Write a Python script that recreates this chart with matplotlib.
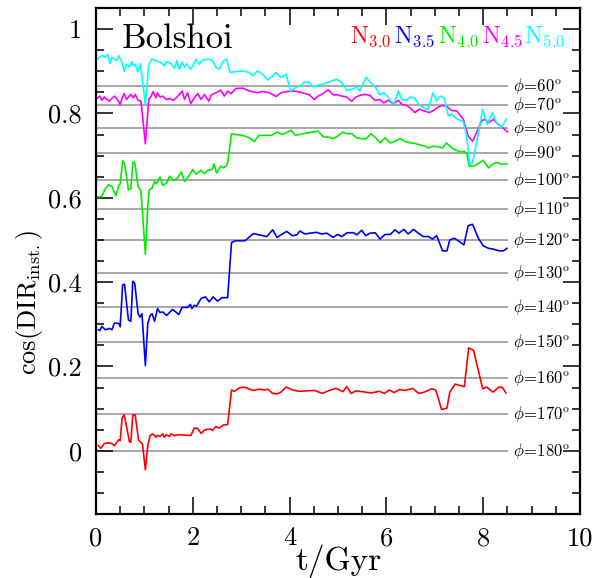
import numpy as np
import matplotlib
matplotlib.use("Agg")
import matplotlib.pyplot as plt
from matplotlib.ticker import MultipleLocator, FuncFormatter

# N_3.0 (red)
t_n30 = [0.05, 0.10, 0.17, 0.28, 0.34, 0.38, 0.47, 0.50, 0.54, 0.585, 0.69, 0.72, 0.76, 0.81, 0.88,
         0.96, 1.02, 1.07, 1.12, 1.17, 1.24, 1.27, 1.32, 1.38, 1.41, 1.45, 1.52, 1.55, 1.62, 1.72,
         1.83, 1.96, 2.03, 2.10, 2.17, 2.24, 2.31, 2.38, 2.41, 2.47, 2.55, 2.63, 2.72, 2.80, 2.86,
         2.96, 3.06, 3.24, 3.37, 3.48, 3.55, 3.65, 3.75, 3.82, 3.93, 4.06, 4.20, 4.34, 4.51, 4.68,
         4.82, 4.96, 5.10, 5.18, 5.27, 5.37, 5.51, 5.68, 5.85, 5.96, 6.06, 6.16, 6.27, 6.40, 6.54,
         6.67, 6.78, 6.94, 7.02, 7.14, 7.25, 7.31, 7.42, 7.61, 7.70, 7.80, 7.99, 8.07, 8.20, 8.33,
         8.40, 8.47]
cos_n30 = [0.012, 0.006, 0.017, 0.019, 0.016, 0.012, 0.026, 0.024, 0.079, 0.085, 0.022, 0.020, 0.085, 0.085, 0.025,
           0.016, -0.045, 0.012, 0.036, 0.040, 0.032, 0.037, 0.034, 0.040, 0.032, 0.038, 0.034, 0.040, 0.036, 0.038,
           0.037, 0.036, 0.054, 0.053, 0.041, 0.049, 0.051, 0.051, 0.048, 0.057, 0.054, 0.061, 0.062, 0.144, 0.141,
           0.149, 0.151, 0.143, 0.146, 0.144, 0.146, 0.136, 0.135, 0.139, 0.151, 0.144, 0.141, 0.142, 0.143, 0.136,
           0.143, 0.148, 0.140, 0.152, 0.136, 0.142, 0.140, 0.137, 0.141, 0.136, 0.144, 0.138, 0.145, 0.143, 0.148,
           0.136, 0.139, 0.147, 0.144, 0.098, 0.101, 0.139, 0.158, 0.152, 0.244, 0.238, 0.147, 0.151, 0.139, 0.151,
           0.150, 0.137]

# N_3.5 (blue)
t_n35 = [0.05, 0.08, 0.12, 0.19, 0.28, 0.33, 0.38, 0.47, 0.50, 0.55, 0.59, 0.67, 0.72, 0.76, 0.80,
         0.87, 0.91, 0.95, 1.02, 1.07, 1.12, 1.16, 1.21, 1.27, 1.32, 1.38, 1.46, 1.58, 1.65, 1.71,
         1.78, 1.89, 1.95, 1.98, 2.03, 2.08, 2.17, 2.26, 2.34, 2.42, 2.51, 2.60, 2.72, 2.80, 2.89,
         3.08, 3.25, 3.37, 3.53, 3.65, 3.74, 3.82, 3.94, 4.06, 4.15, 4.21, 4.32, 4.42, 4.56, 4.66,
         4.77, 4.90, 4.99, 5.08, 5.19, 5.32, 5.39, 5.49, 5.57, 5.66, 5.77, 5.87, 5.97, 6.08, 6.18,
         6.26, 6.36, 6.45, 6.56, 6.66, 6.76, 6.87, 6.95, 7.04, 7.16, 7.25, 7.31, 7.40, 7.51, 7.60,
         7.69, 7.78, 7.90, 8.00, 8.11, 8.21, 8.33, 8.42, 8.49]
cos_n35 = [0.287, 0.285, 0.295, 0.287, 0.290, 0.287, 0.303, 0.302, 0.294, 0.393, 0.395, 0.310, 0.307, 0.402, 0.397,
           0.325, 0.317, 0.325, 0.202, 0.302, 0.321, 0.325, 0.307, 0.337, 0.328, 0.329, 0.321, 0.335, 0.329, 0.323,
           0.340, 0.340, 0.347, 0.337, 0.345, 0.343, 0.361, 0.365, 0.353, 0.365, 0.355, 0.363, 0.363, 0.494, 0.498,
           0.498, 0.515, 0.512, 0.508, 0.524, 0.506, 0.512, 0.520, 0.510, 0.512, 0.521, 0.514, 0.516, 0.518, 0.514,
           0.516, 0.506, 0.513, 0.508, 0.517, 0.517, 0.512, 0.523, 0.510, 0.516, 0.517, 0.502, 0.513, 0.513, 0.524,
           0.516, 0.525, 0.514, 0.525, 0.516, 0.508, 0.508, 0.502, 0.510, 0.474, 0.474, 0.500, 0.504, 0.496, 0.488,
           0.534, 0.537, 0.504, 0.486, 0.480, 0.478, 0.474, 0.474, 0.480]

# N_4.0 (green)
t_n40 = [0.03, 0.12, 0.19, 0.26, 0.33, 0.41, 0.47, 0.50, 0.55, 0.59, 0.67, 0.72, 0.76, 0.80, 0.87,
         0.93, 1.02, 1.07, 1.10, 1.16, 1.21, 1.25, 1.32, 1.38, 1.46, 1.52, 1.60, 1.69, 1.76, 1.83,
         1.89, 2.00, 2.07, 2.17, 2.24, 2.31, 2.40, 2.44, 2.49, 2.58, 2.63, 2.69, 2.72, 2.80, 2.89,
         3.03, 3.17, 3.27, 3.37, 3.48, 3.62, 3.75, 3.84, 3.93, 4.03, 4.12, 4.21, 4.42, 4.59, 4.70,
         4.80, 4.90, 4.99, 5.10, 5.18, 5.28, 5.39, 5.49, 5.58, 5.68, 5.78, 5.87, 5.97, 6.08, 6.18,
         6.28, 6.38, 6.49, 6.59, 6.70, 6.78, 6.87, 6.95, 7.07, 7.16, 7.24, 7.35, 7.45, 7.53, 7.60,
         7.66, 7.71, 7.80, 7.90, 8.00, 8.11, 8.20, 8.29, 8.38, 8.49]
cos_n40 = [0.602, 0.603, 0.621, 0.631, 0.627, 0.605, 0.629, 0.633, 0.688, 0.681, 0.619, 0.621, 0.684, 0.684, 0.627,
           0.615, 0.466, 0.579, 0.619, 0.623, 0.639, 0.633, 0.649, 0.629, 0.635, 0.651, 0.641, 0.647, 0.661, 0.639,
           0.647, 0.667, 0.656, 0.665, 0.657, 0.665, 0.667, 0.680, 0.659, 0.675, 0.671, 0.675, 0.683, 0.752, 0.750,
           0.748, 0.742, 0.733, 0.748, 0.748, 0.748, 0.756, 0.750, 0.754, 0.760, 0.748, 0.750, 0.755, 0.758, 0.744,
           0.744, 0.740, 0.746, 0.756, 0.752, 0.752, 0.742, 0.740, 0.740, 0.752, 0.742, 0.730, 0.742, 0.730, 0.734,
           0.740, 0.734, 0.730, 0.729, 0.725, 0.723, 0.718, 0.722, 0.721, 0.718, 0.730, 0.718, 0.712, 0.709, 0.710,
           0.706, 0.675, 0.675, 0.681, 0.689, 0.671, 0.680, 0.684, 0.679, 0.681]

# N_4.5 (magenta)
t_n45 = [0.03, 0.08, 0.12, 0.17, 0.23, 0.28, 0.33, 0.38, 0.43, 0.50, 0.54, 0.585, 0.63, 0.67, 0.72,
         0.77, 0.81, 0.87, 0.93, 1.02, 1.09, 1.14, 1.18, 1.24, 1.27, 1.32, 1.38, 1.45, 1.52, 1.60,
         1.69, 1.78, 1.83, 1.89, 1.96, 2.03, 2.10, 2.17, 2.24, 2.33, 2.38, 2.48, 2.58, 2.65, 2.72,
         2.79, 2.89, 3.03, 3.17, 3.34, 3.44, 3.58, 3.72, 3.82, 3.96, 4.10, 4.20, 4.32, 4.41, 4.51,
         4.59, 4.70, 4.80, 4.90, 4.99, 5.08, 5.18, 5.28, 5.37, 5.45, 5.55, 5.66, 5.76, 5.87, 5.94,
         6.04, 6.14, 6.25, 6.32, 6.42, 6.49, 6.59, 6.68, 6.78, 6.89, 6.97, 7.07, 7.16, 7.24, 7.35,
         7.45, 7.59, 7.69, 7.78, 7.87, 7.97, 8.04, 8.11, 8.21, 8.31, 8.40, 8.50]
cos_n45 = [0.837, 0.841, 0.831, 0.839, 0.833, 0.829, 0.836, 0.841, 0.835, 0.821, 0.837, 0.847, 0.833, 0.839, 0.845,
           0.837, 0.845, 0.831, 0.829, 0.728, 0.833, 0.841, 0.852, 0.837, 0.849, 0.839, 0.841, 0.833, 0.835, 0.831,
           0.841, 0.853, 0.833, 0.849, 0.823, 0.837, 0.847, 0.833, 0.845, 0.829, 0.844, 0.849, 0.855, 0.841, 0.853,
           0.847, 0.859, 0.860, 0.853, 0.849, 0.852, 0.849, 0.840, 0.849, 0.852, 0.853, 0.851, 0.847, 0.844, 0.833,
           0.841, 0.848, 0.856, 0.844, 0.844, 0.841, 0.839, 0.829, 0.839, 0.843, 0.845, 0.843, 0.831, 0.833, 0.825,
           0.831, 0.823, 0.831, 0.821, 0.819, 0.813, 0.802, 0.810, 0.806, 0.802, 0.807, 0.815, 0.819, 0.817, 0.807,
           0.806, 0.786, 0.746, 0.734, 0.756, 0.783, 0.786, 0.778, 0.786, 0.774, 0.766, 0.756]

# N_5.0 (cyan)
t_n50 = [0.03, 0.08, 0.14, 0.19, 0.24, 0.29, 0.33, 0.38, 0.43, 0.47, 0.54, 0.585, 0.63, 0.69, 0.74,
         0.77, 0.81, 0.86, 0.92, 1.02, 1.09, 1.15, 1.24, 1.34, 1.41, 1.46, 1.55, 1.62, 1.67, 1.72,
         1.78, 1.83, 1.87, 1.96, 2.07, 2.13, 2.20, 2.31, 2.41, 2.48, 2.55, 2.60, 2.65, 2.70, 2.77,
         2.89, 3.03, 3.17, 3.24, 3.34, 3.44, 3.55, 3.65, 3.72, 3.82, 3.93, 4.02, 4.12, 4.21, 4.30,
         4.39, 4.49, 4.59, 4.73, 4.87, 4.97, 5.08, 5.18, 5.28, 5.39, 5.45, 5.58, 5.66, 5.77, 5.86,
         5.94, 6.02, 6.09, 6.16, 6.25, 6.32, 6.41, 6.50, 6.59, 6.64, 6.73, 6.80, 6.87, 6.96, 7.04,
         7.11, 7.19, 7.28, 7.35, 7.45, 7.59, 7.66, 7.72, 7.78, 7.87, 7.99, 8.08, 8.19, 8.27, 8.37,
         8.48]
cos_n50 = [0.929, 0.934, 0.937, 0.933, 0.940, 0.918, 0.933, 0.929, 0.925, 0.937, 0.921, 0.899, 0.917, 0.910, 0.923,
           0.913, 0.917, 0.899, 0.918, 0.821, 0.915, 0.929, 0.925, 0.921, 0.913, 0.923, 0.918, 0.907, 0.925, 0.905,
           0.921, 0.909, 0.918, 0.905, 0.929, 0.917, 0.926, 0.929, 0.925, 0.909, 0.905, 0.918, 0.926, 0.929, 0.897,
           0.899, 0.901, 0.897, 0.889, 0.901, 0.893, 0.879, 0.889, 0.897, 0.885, 0.893, 0.853, 0.861, 0.865, 0.873,
           0.875, 0.863, 0.867, 0.871, 0.877, 0.881, 0.873, 0.855, 0.857, 0.863, 0.853, 0.886, 0.875, 0.863, 0.844,
           0.849, 0.841, 0.829, 0.823, 0.853, 0.833, 0.831, 0.839, 0.836, 0.825, 0.817, 0.811, 0.810, 0.849, 0.829,
           0.841, 0.837, 0.794, 0.798, 0.788, 0.780, 0.746, 0.679, 0.683, 0.734, 0.810, 0.774, 0.802, 0.780, 0.766,
           0.786]

series_names = ["3.0", "3.5", "4.0", "4.5", "5.0"]
series_colors = ["#ff0000", "#0000ff", "#00ee00", "#ff00ff", "#00ffff"]

# reference angles; the line for phi sits at cos(phi/2)
phi_deg = [60, 70, 80, 90, 100, 110, 120, 130, 140, 150, 160, 170, 180]

plt.rcParams["font.family"] = "serif"
plt.rcParams["font.serif"] = ["cmr10"]
plt.rcParams["mathtext.fontset"] = "cm"
plt.rcParams["axes.formatter.use_mathtext"] = True

fig = plt.figure(figsize=(6.01, 5.78), dpi=100)
ax = fig.add_axes([96 / 601, 1 - 514 / 578, 484 / 601, 506 / 578])

phi_y = np.cos(np.radians(np.array(phi_deg) / 2.0))
for p, yv in zip(phi_deg, phi_y):
    ax.plot([0, 8.5], [yv, yv], color="#a0a0a0", lw=1.3, zorder=1)
    ax.text(8.62, yv, r"$\phi\!=\!%d^{\rm o}$" % p, fontsize=12, va="center", ha="left")

series = [(t_n30, cos_n30), (t_n35, cos_n35), (t_n40, cos_n40), (t_n45, cos_n45), (t_n50, cos_n50)]
for (tt, cc), col in zip(series, series_colors):
    ax.plot(tt, cc, color=col, lw=1.2, zorder=2)

ax.set_xlim(0, 10)
ax.set_ylim(-0.15, 1.05)
ax.xaxis.set_major_locator(MultipleLocator(2))
ax.xaxis.set_minor_locator(MultipleLocator(0.5))
ax.yaxis.set_major_locator(MultipleLocator(0.2))
ax.yaxis.set_minor_locator(MultipleLocator(0.05))
ax.yaxis.set_major_formatter(FuncFormatter(lambda v, pos: "%g" % round(v, 3)))
ax.xaxis.set_major_formatter(FuncFormatter(lambda v, pos: "%g" % round(v, 3)))
ax.tick_params(which="both", direction="in", top=True, right=True, width=1.1, labelsize=19)
ax.tick_params(which="major", length=12)
ax.tick_params(which="minor", length=6)
ax.tick_params(axis="x", pad=9)
ax.tick_params(axis="y", pad=10)
for s in ax.spines.values():
    s.set_linewidth(1.6)

ax.text(0.54, 0.955, "Bolshoi", fontsize=25, ha="left", va="baseline")
label_x = [5.25, 6.16, 7.07, 7.98, 8.84]
for name, col, lx in zip(series_names, series_colors, label_x):
    ax.text(lx, 0.967, r"$\mathrm{N}_{%s}$" % name, color=col, fontsize=17, ha="left", va="baseline")

fig.text(338 / 601, 1 - 570 / 578, "t/Gyr", fontsize=24, ha="center", va="baseline")
fig.text(30 / 601, 1 - 302 / 578, r"$\mathrm{cos(DIR_{inst.})}$", fontsize=19,
         rotation=90, ha="center", va="center")

fig.savefig("out.png", dpi=100)
